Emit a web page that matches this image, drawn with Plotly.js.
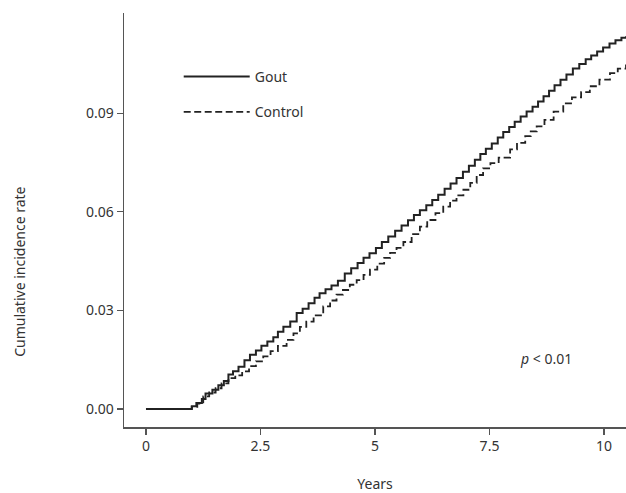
<!DOCTYPE html>
<html>
<head>
<meta charset="utf-8">
<script src="https://cdn.plot.ly/plotly-3.0.1.min.js"></script>
<style>html,body{margin:0;padding:0;background:#fff;}#chart{width:626px;height:493px;}</style>
</head>
<body>
<div id="chart"></div>
<script>
// ---- data ----
const goutYears = [0, 1.00, 1.10, 1.22, 1.30, 1.45, 1.58, 1.70, 1.80, 1.90, 2.02, 2.15, 2.27, 2.40, 2.52, 2.65, 2.78, 2.88, 3.00, 3.15, 3.29, 3.42, 3.55, 3.68, 3.79, 3.92, 4.05, 4.19, 4.34, 4.48, 4.62, 4.75, 4.88, 5.02, 5.15, 5.29, 5.44, 5.58, 5.72, 5.85, 5.98, 6.12, 6.25, 6.38, 6.52, 6.65, 6.78, 6.92, 7.05, 7.18, 7.30, 7.42, 7.55, 7.68, 7.80, 7.93, 8.05, 8.18, 8.31, 8.44, 8.56, 8.68, 8.80, 8.92, 9.05, 9.18, 9.32, 9.46, 9.60, 9.72, 9.85, 9.98, 10.12, 10.25, 10.38, 10.48];
const goutRate = [0, 0.0008, 0.0018, 0.0030, 0.0047, 0.0058, 0.0072, 0.0085, 0.0105, 0.0115, 0.0128, 0.0148, 0.0165, 0.0178, 0.0192, 0.0205, 0.0218, 0.0235, 0.0250, 0.0266, 0.0292, 0.0305, 0.0322, 0.0338, 0.0352, 0.0364, 0.0376, 0.0390, 0.0412, 0.0428, 0.0444, 0.0460, 0.0474, 0.0490, 0.0508, 0.0525, 0.0542, 0.0558, 0.0574, 0.0590, 0.0605, 0.0620, 0.0636, 0.0652, 0.0670, 0.0686, 0.0703, 0.0722, 0.0740, 0.0758, 0.0776, 0.0792, 0.0808, 0.0826, 0.0843, 0.0858, 0.0874, 0.0890, 0.0905, 0.0920, 0.0936, 0.0952, 0.0968, 0.0985, 0.1002, 0.1018, 0.1036, 0.1050, 0.1064, 0.1076, 0.1088, 0.1100, 0.1112, 0.1122, 0.1130, 0.1134];

const controlYears = [0, 1.00, 1.12, 1.25, 1.38, 1.52, 1.65, 1.80, 1.95, 2.10, 2.25, 2.40, 2.56, 2.72, 2.88, 3.07, 3.22, 3.36, 3.50, 3.66, 3.87, 4.02, 4.16, 4.30, 4.45, 4.60, 4.75, 4.89, 5.05, 5.20, 5.33, 5.47, 5.62, 5.80, 5.98, 6.14, 6.32, 6.49, 6.64, 6.78, 6.93, 7.08, 7.22, 7.36, 7.52, 7.70, 7.95, 8.10, 8.28, 8.40, 8.53, 8.70, 8.90, 9.11, 9.30, 9.50, 9.69, 9.90, 10.13, 10.30, 10.48];
const controlRate = [0, 0.0006, 0.0016, 0.0038, 0.0050, 0.0063, 0.0078, 0.0094, 0.0102, 0.0114, 0.0130, 0.0145, 0.0160, 0.0176, 0.0192, 0.0210, 0.0230, 0.0250, 0.0266, 0.0285, 0.0312, 0.0330, 0.0348, 0.0362, 0.0378, 0.0392, 0.0408, 0.0424, 0.0442, 0.0460, 0.0475, 0.0490, 0.0508, 0.0532, 0.0555, 0.0575, 0.0596, 0.0616, 0.0634, 0.0650, 0.0667, 0.0688, 0.0712, 0.0732, 0.0748, 0.0765, 0.0790, 0.0810, 0.0830, 0.0845, 0.0860, 0.0880, 0.0905, 0.0930, 0.0948, 0.0964, 0.0982, 0.1002, 0.1022, 0.1036, 0.1048];

const seriesNames = ['Gout', 'Control'];
const xTickVals = [0, 2.5, 5, 7.5, 10];
const xTickText = ['0', '2.5', '5', '7.5', '10'];
const yTickVals = [0, 0.03, 0.06, 0.09];
const yTickText = ['0.00', '0.03', '0.06', '0.09'];
const xTitle = 'Years';
const yTitle = 'Cumulative incidence rate';
const pText = '<i>p</i> < 0.01';

const FONT = '"Noto Sans", "Open Sans", sans-serif';
const TXT = '#333333';
const AX = '#555555';
const FS = 14;

const traces = [
  {x: goutYears, y: goutRate, name: seriesNames[0], type: 'scatter', mode: 'lines',
   line: {shape: 'hv', color: '#222222', width: 2}, legendgroup: 'g1'},
  {x: controlYears, y: controlRate, name: seriesNames[1], type: 'scatter', mode: 'lines',
   line: {shape: 'hv', color: '#222222', width: 1.8, dash: '7px,3.5px'}, legendgroup: 'g2'}
];

const layout = {
  width: 626, height: 493,
  margin: {l: 124, r: 0, t: 13, b: 66},
  paper_bgcolor: '#ffffff', plot_bgcolor: '#ffffff',
  font: {family: FONT, size: FS, color: TXT},
  showlegend: true,
  legend: {x: 0.109, y: 0.884, xanchor: 'left', yanchor: 'top', bgcolor: 'rgba(0,0,0,0)',
           font: {family: FONT, size: FS, color: TXT}, tracegroupgap: 14, itemwidth: 66},
  xaxis: {range: [-0.48, 10.48], tickvals: xTickVals, ticktext: xTickText,
          showgrid: false, zeroline: false, showline: true, linecolor: AX, linewidth: 1.5,
          ticks: 'outside', ticklen: 6, tickwidth: 1.2, tickcolor: AX,
          tickfont: {family: FONT, size: FS, color: TXT},
          title: {text: xTitle, font: {family: FONT, size: FS, color: TXT}, standoff: 26}},
  yaxis: {range: [-0.0055, 0.1205], tickvals: yTickVals, ticktext: yTickText,
          showgrid: false, zeroline: false, showline: true, linecolor: AX, linewidth: 1.5,
          ticks: 'outside', ticklen: 6, tickwidth: 1.2, tickcolor: AX,
          tickfont: {family: FONT, size: FS, color: TXT}},
  annotations: [
    {text: pText, x: 8.73, y: 0.0155, xref: 'x', yref: 'y', showarrow: false,
     font: {family: FONT, size: FS, color: TXT}},
    {text: yTitle, textangle: -90, xref: 'paper', yref: 'paper', x: -0.207, y: 0.375,
     xanchor: 'center', yanchor: 'middle', showarrow: false,
     font: {family: FONT, size: FS, color: TXT}}
  ]
};

Plotly.newPlot('chart', traces, layout, {displayModeBar: false, staticPlot: true});
</script>
</body>
</html>
